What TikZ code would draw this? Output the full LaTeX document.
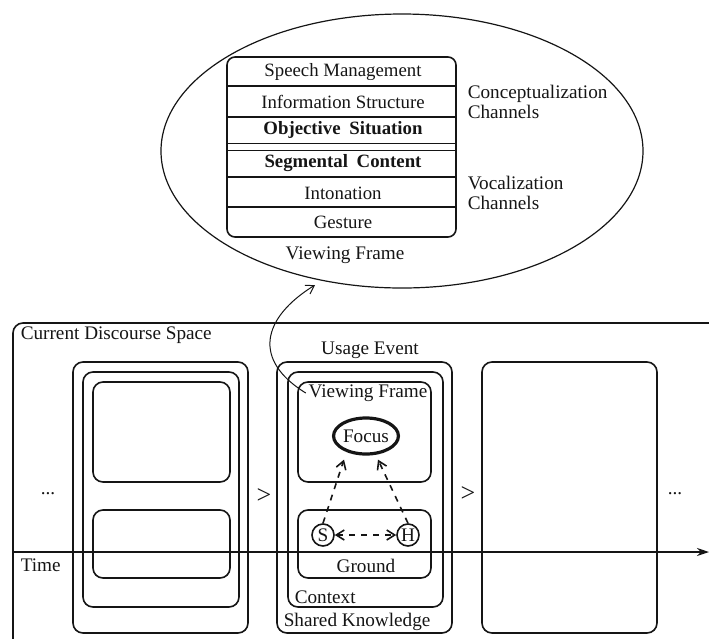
\documentclass[tikz,border=0pt]{standalone}
\usepackage{fontspec}
\setmainfont{Liberation Serif}
\usepackage{xcolor}
\usetikzlibrary{arrows.meta,shapes.geometric}
\definecolor{inkBlack}{HTML}{151515}

\begin{document}
\begin{tikzpicture}[x=0.5pt,y=-0.5pt,line width=0.8pt,draw=inkBlack,
  frame/.style={draw=inkBlack, rounded corners=5pt},
  label/.style={font=\fontsize{9.6}{11}\selectfont, text=inkBlack, inner sep=1pt},
  rowtext/.style={label, font=\fontsize{9.4}{11}\selectfont},
  barb/.style={-{Straight Barb[length=4pt,width=5pt]}},
  twobarb/.style={{Straight Barb[length=4pt,width=5pt]}-{Straight Barb[length=4pt,width=5pt]}}]
  \useasboundingbox (0,0) rectangle (709,639);

  % Zoomed viewing frame
  \node[draw, ellipse, line width=0.6pt, minimum width=241pt, minimum height=137pt, inner sep=0pt] (zoomOval) at (402,151) {};
  \node[draw, rounded corners=4pt, minimum width=114.5pt, minimum height=90pt, inner sep=0pt] (chanTable) at (341.5,147) {};
  \foreach \y in {86,117,143.5,150.5,177,207}
    \draw (227,\y) -- (456,\y);
  \node[rowtext] (rowSpeech) at (343,72) {Speech Management};
  \node[rowtext] (rowInfo) at (343,102) {Information Structure};
  \node[rowtext, font=\fontsize{9.4}{11}\selectfont\bfseries] (rowObjective) at (343,130) {Objective\hspace{2pt} Situation};
  \node[rowtext, font=\fontsize{9.4}{11}\selectfont\bfseries] (rowSegment) at (343,163) {Segmental\hspace{2pt} Content};
  \node[rowtext] (rowIntonation) at (343,193) {Intonation};
  \node[rowtext] (rowGesture) at (343,222) {Gesture};
  \node[label] (zoomTitle) at (345,255) {Viewing Frame};
  \node[label, anchor=west, align=left, font=\fontsize{9.6}{10}\selectfont] (conceptLbl) at (465,102) {Conceptualization\\Channels};
  \node[label, anchor=west, align=left, font=\fontsize{9.6}{10}\selectfont] (vocalLbl) at (465,193) {Vocalization\\Channels};

  % Current discourse space
  \draw[frame] (720,323) -- (13,323) -- (13,660);
  \node[label, anchor=west] (cdsLbl) at (18,335) {Current Discourse Space};

  % Previous usage event
  \draw[frame] (73,362) rectangle (248,633);
  \draw[frame] (83,372) rectangle (239,607);
  \draw[frame] (93,382) rectangle (230,482);
  \draw[frame] (93,510) rectangle (230,578);
  \node[label] (dotsLeft) at (48,494) {...};
  \node[label, font=\fontsize{13}{14}\selectfont] (gtLeft) at (264,496) {>};

  % Current usage event
  \node[label] (ueLbl) at (370,350) {Usage Event};
  \draw[frame] (277,362) rectangle (452,633);
  \draw[frame] (288,372) rectangle (443,607);
  \draw[frame] (298,382) rectangle (431,482);
  \draw[frame] (298,510) rectangle (431,578);
  \node[label] (vfLbl) at (368,393) {Viewing Frame};
  \node[label, draw, ellipse, line width=1.6pt, inner sep=0pt, minimum width=28pt, minimum height=18pt] (focus) at (366,436) {Focus};
  \node[label, draw, circle, inner sep=0pt, minimum size=11pt] (spk) at (323,535) {S};
  \node[label, draw, circle, inner sep=0pt, minimum size=11pt] (hrr) at (408,535) {H};
  \node[label] (groundLbl) at (366,566) {Ground};
  \node[label, anchor=west] (ctxLbl) at (292,597) {Context};
  \node[label, anchor=west] (skLbl) at (281,622) {Shared Knowledge};
  \draw[barb, dashed] (spk.north) -- ([xshift=-11pt,yshift=-2pt]focus.south);
  \draw[barb, dashed] (hrr.north) -- ([xshift=6pt,yshift=-2pt]focus.south);
  \draw[twobarb, dashed] (spk) -- (hrr);

  % Next usage event
  \node[label, font=\fontsize{13}{14}\selectfont] (gtRight) at (468,494) {>};
  \draw[frame] (482,362) rectangle (657,633);
  \node[label] (dotsRight) at (675,494) {...};

  % Time axis
  \coordinate (timeStart) at (13,552);
  \coordinate (timeEnd) at (709,552);
  \draw[-{Stealth[length=6pt,width=4pt]}, line width=0.9pt] (timeStart) -- (timeEnd);
  \node[label, anchor=west] (timeLbl) at (18,565) {Time};

  % Link to zoomed frame
  \coordinate (zoomTip) at (315,285);
  \draw[barb, line width=0.5pt] (vfLbl.west) .. controls (252,360) and (262,318) .. (zoomTip);
\end{tikzpicture}
\end{document}
